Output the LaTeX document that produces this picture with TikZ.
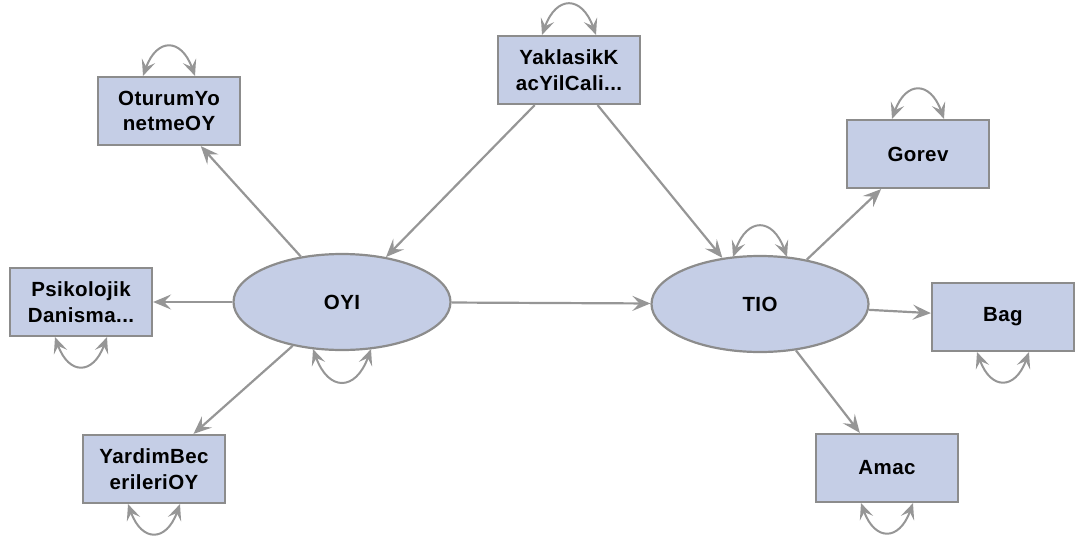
\documentclass[tikz,border=0pt]{standalone}
\usepackage{fontspec}
\newfontfamily\lblfont{Liberation Sans}[LetterSpace=2]
\usetikzlibrary{arrows.meta,shapes.geometric}
\definecolor{nodefill}{RGB}{197,206,230}
\definecolor{bordgray}{RGB}{140,140,140}
\definecolor{edgegray}{RGB}{150,150,150}
\begin{document}
\begin{tikzpicture}[x=1pt,y=1pt,
  box/.style={draw=bordgray, line width=2.2pt, fill=nodefill, minimum width=142pt, minimum height=68pt, inner sep=0pt, align=center, font=\lblfont\bfseries\fontsize{20.5}{25.5}\selectfont},
  lat/.style={ellipse, draw=bordgray, line width=2.2pt, fill=nodefill, minimum width=217pt, minimum height=96pt, inner sep=0pt, font=\lblfont\bfseries\fontsize{20.5}{24}\selectfont},
  path/.style={draw=edgegray, line width=2.2pt, -{Stealth[length=18pt,width=15pt,inset=7pt]}},
  var/.style={draw=edgegray, line width=2pt, {Stealth[length=16pt,width=14pt,inset=6.5pt]}-{Stealth[length=16pt,width=14pt,inset=6.5pt]}, looseness=2}
]
\useasboundingbox (0,0) rectangle (1079,-538);
\node[box] (otu) at (169,-111) {OturumYo\\netmeOY};
\node[box] (yak) at (569,-70) {YaklasikK\\acYilCali...};
\node[box] (gor) at (918,-154) {Gorev};
\node[box] (psi) at (81,-302) {Psikolojik\\Danisma...};
\node[box] (bag) at (1003,-317) {Bag};
\node[box] (yar) at (154,-469) {YardimBec\\erileriOY};
\node[box] (ama) at (887,-468) {Amac};
\node[lat] (oyi) at (342,-302) {OYI};
\node[lat] (tio) at (760,-304) {TIO};

\draw[path] (oyi) -- (otu);
\draw[path] (yak) -- (oyi);
\draw[path] (yak) -- (tio);
\draw[path] (oyi) -- (tio);
\draw[path] (oyi) -- (psi);
\draw[path] (oyi) -- (yar);
\draw[path] (tio) -- (gor);
\draw[path] (tio) -- (bag);
\draw[path] (tio) -- (ama);

\draw[var] ([xshift=-26pt]otu.north) to[out=70,in=110] ([xshift=26pt]otu.north);
\draw[var] ([xshift=-27pt]yak.north) to[out=70,in=110] ([xshift=27pt]yak.north);
\draw[var] ([xshift=-26pt]gor.north) to[out=70,in=110] ([xshift=26pt]gor.north);
\draw[var] ([xshift=-27pt,yshift=-2pt]tio.north) to[out=70,in=110] ([xshift=27pt,yshift=-2pt]tio.north);
\draw[var] ([xshift=-26pt]psi.south) to[out=-70,in=-110] ([xshift=26pt]psi.south);
\draw[var] ([xshift=-26pt]bag.south) to[out=-70,in=-110] ([xshift=26pt]bag.south);
\draw[var] ([xshift=-26pt]yar.south) to[out=-70,in=-110] ([xshift=26pt]yar.south);
\draw[var] ([xshift=-26pt]ama.south) to[out=-70,in=-110] ([xshift=26pt]ama.south);
\draw[var] ([xshift=-29pt,yshift=2pt]oyi.south) to[out=-70,in=-110] ([xshift=29pt,yshift=2pt]oyi.south);
\end{tikzpicture}
\end{document}
